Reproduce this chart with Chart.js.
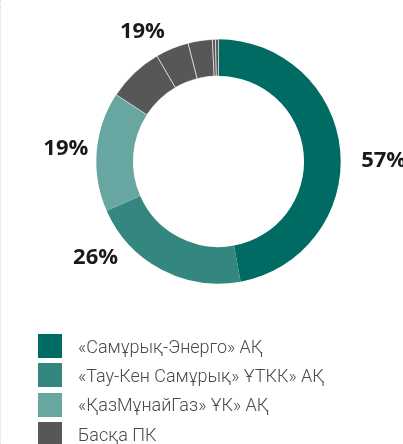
<!DOCTYPE html>
<html>
<head>
<meta charset="utf-8">
<script src="https://cdn.jsdelivr.net/npm/chart.js@4/dist/chart.umd.min.js"></script>
<style>
  html, body { margin: 0; padding: 0; background: #fff; }
  body { width: 403px; height: 444px; position: relative; overflow: hidden; }
  #edge { position: absolute; left: 0; top: 0; bottom: 0; border-left: 1px dotted #d8d8d8; }
  #wrap { position: absolute; left: 0; top: 0; width: 403px; height: 444px; }
  #legend { position: absolute; left: 38px; top: 334px; margin: 0; padding: 0; list-style: none;
            font-family: Roboto, "Noto Sans", sans-serif; font-size: 18px; font-weight: 300; color: #4a4a4a; }
  #legend li { height: 24px; margin-bottom: 5.4px; display: flex; align-items: center; white-space: nowrap; }
  #legend span.box { width: 24px; height: 24px; margin-right: 16px; flex: none; }
</style>
</head>
<body>
<div id="edge"></div>
<div id="wrap"><canvas id="donut"></canvas></div>
<ul id="legend"></ul>
<script>
// legend categories and their printed shares
const categories = ["«Самұрық-Энерго» АҚ", "«Тау-Кен Самұрық» ҰТКК» АҚ", "«ҚазМұнайГаз» ҰК» АҚ", "Басқа ПК"];
const shareLabels = ["57%", "26%", "19%", "19%"];
const categoryColors = ["#006b62", "#33877f", "#68a6a1", "#575757"];

// ring segments as drawn (the last group is split into several small pieces)
const sliceValues = [47.1, 21.3, 15.8, 7.4, 4.4, 3.2, 0.4, 0.4];
const sliceGroup = [0, 1, 2, 3, 3, 3, 3, 3];

// label angle nudges (degrees) per category, and distance beyond the ring
const labelNudge = [5, 24, 0, -2];
const labelGap = [43, 34, 31, 28];

const shareLabelPlugin = {
  id: "shareLabels",
  afterDatasetsDraw(chart) {
    const ctx = chart.ctx;
    const arcs = chart.getDatasetMeta(0).data;
    ctx.save();
    ctx.font = "bold 22px 'Open Sans', 'Noto Sans', sans-serif";
    ctx.fillStyle = "#1a1a1a";
    ctx.textAlign = "center";
    ctx.textBaseline = "middle";
    categories.forEach((c, g) => {
      let start = null, end = null, cx = 0, cy = 0, r = 0;
      arcs.forEach((a, i) => {
        if (sliceGroup[i] !== g) return;
        if (start === null) start = a.startAngle;
        end = a.endAngle;
        cx = a.x; cy = a.y; r = a.outerRadius;
      });
      const mid = (start + end) / 2 + labelNudge[g] * Math.PI / 180;
      const d = r + labelGap[g];
      ctx.fillText(shareLabels[g], cx + Math.cos(mid) * d, cy + Math.sin(mid) * d);
    });
    ctx.restore();
  }
};

const ctx = document.getElementById("donut").getContext("2d");
new Chart(ctx, {
  type: "doughnut",
  data: {
    labels: sliceValues.map((v, i) => categories[sliceGroup[i]]),
    datasets: [{
      data: sliceValues,
      backgroundColor: sliceGroup.map(g => categoryColors[g]),
      borderColor: sliceGroup.map(g => g === 3 ? "#ffffff" : categoryColors[g]),
      borderWidth: sliceGroup.map(g => g === 3 ? 0.6 : 0),
      hoverOffset: 0
    }]
  },
  options: {
    responsive: true,
    maintainAspectRatio: false,
    animation: false,
    cutout: "70%",
    layout: { padding: { left: 96, right: 62, top: 39, bottom: 160 } },
    plugins: {
      legend: { display: false },
      tooltip: { enabled: false }
    }
  },
  plugins: [shareLabelPlugin]
});

// html legend from the category arrays
const ul = document.getElementById("legend");
categories.forEach((c, i) => {
  const li = document.createElement("li");
  const box = document.createElement("span");
  box.className = "box";
  box.style.background = categoryColors[i];
  li.appendChild(box);
  li.appendChild(document.createTextNode(c));
  ul.appendChild(li);
});
</script>
</body>
</html>
